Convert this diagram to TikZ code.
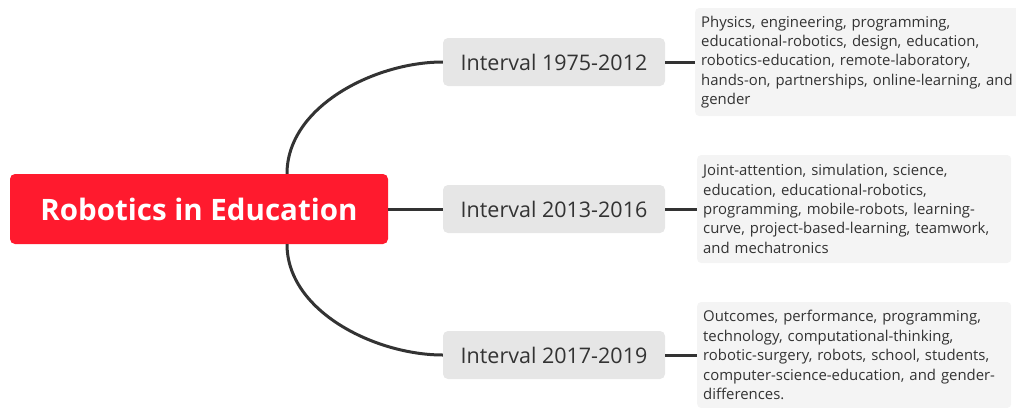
\documentclass[tikz,border=0pt]{standalone}
\usepackage{fontspec}
\setmainfont{Open Sans}
\usepackage{xcolor}
\usetikzlibrary{positioning}

\definecolor{rootred}{HTML}{FF1A2E}
\definecolor{intgray}{HTML}{E6E6E6}
\definecolor{leafgray}{HTML}{F4F4F4}
\definecolor{linedark}{HTML}{333333}

\tikzset{
  root/.style={fill=rootred, text=white, rounded corners=5pt, minimum width=378pt,
    minimum height=70pt, inner sep=0pt, font=\fontsize{29.5}{34}\selectfont\bfseries},
  interval/.style={fill=intgray, text=black!80, rounded corners=5pt, minimum width=222pt,
    minimum height=48pt, inner sep=0pt, font=\fontsize{21.5}{26}\selectfont},
  leaf/.style={fill=leafgray, text=black!80, rounded corners=4pt, anchor=west,
    minimum height=108pt, inner xsep=6pt, inner ysep=4pt, align=left,
    font=\fontsize{14.9}{19.4}\selectfont},
  branch/.style={draw=linedark, line width=3pt}
}

\begin{document}
\begin{tikzpicture}[x=1pt, y=1pt]
    \useasboundingbox (0,0) rectangle (1016,-407);
    % main topic and the three intervals
    \node[root] (rob) at (199,-209) {Robotics in Education};
    \node[interval] (i1) at (554,-62) {Interval 1975-2012};
    \node[interval] (i2) at (554,-209) {Interval 2013-2016};
    \node[interval] (i3) at (554,-355) {Interval 2017-2019};
    % keywords
    \node[leaf, text width=330pt] (k1) at (695,-62) {Physics, engineering, programming,\\educational-robotics, design, education,\\robotics-education, remote-laboratory,\\hands-on, partnerships, online-learning, and\\gender};
    \node[leaf, text width=302pt] (k2) at (697,-209) {Joint-attention, simulation, science,\\education, educational-robotics,\\programming, mobile-robots, learning-\\curve, project-based-learning, teamwork,\\and mechatronics};
    \node[leaf, text width=302pt, minimum height=106pt] (k3) at (697,-355) {Outcomes, performance, programming,\\technology, computational-thinking,\\robotic-surgery, robots, school, students,\\computer-science-education, and gender-\\differences.};
    % branches
    \draw[branch] ([xshift=88pt]rob.north) to[out=90, in=180, looseness=0.9] (i1.west);
    \draw[branch] (rob.east) -- (i2.west);
    \draw[branch] ([xshift=88pt]rob.south) to[out=-90, in=180, looseness=0.9] (i3.west);
    \draw[branch] (i1.east) -- (k1.west);
    \draw[branch] (i2.east) -- (k2.west);
    \draw[branch] (i3.east) -- (k3.west);
\end{tikzpicture}
\end{document}
